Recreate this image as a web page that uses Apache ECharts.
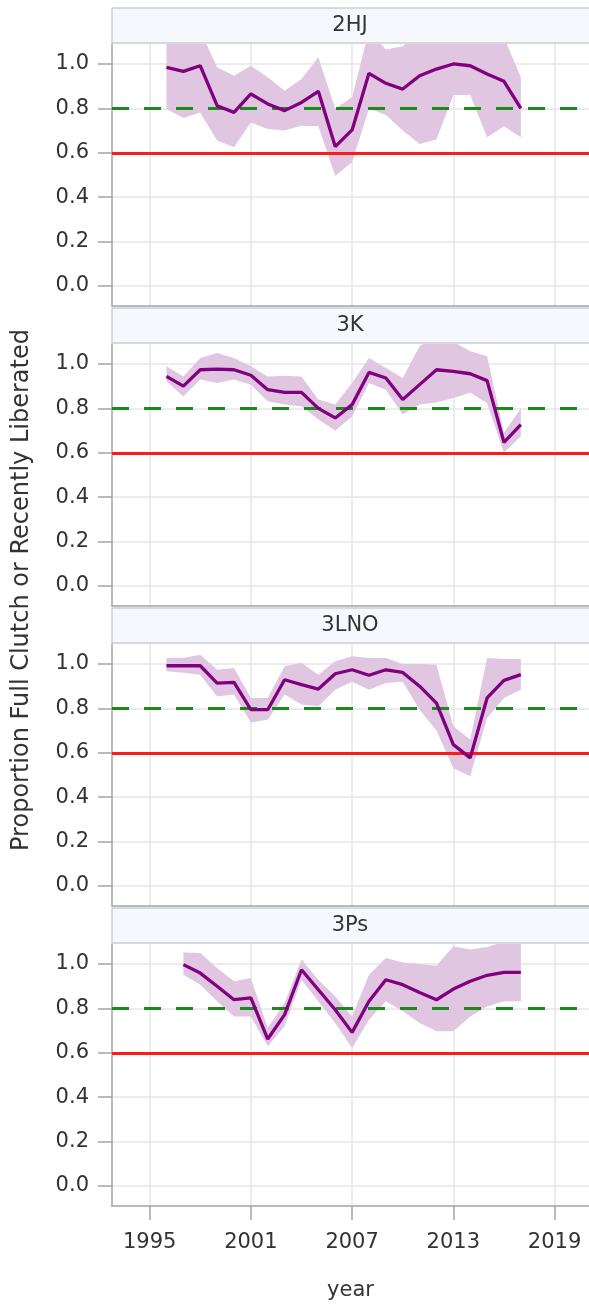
<!DOCTYPE html>
<html>
<head>
<meta charset="utf-8">
<script src="https://cdn.jsdelivr.net/npm/echarts@6/dist/echarts.min.js"></script>
<style>
html,body{margin:0;padding:0;background:#fff;}
#c{width:589px;height:1304px;}
</style>
</head>
<body>
<div id="c"></div>
<script>
// ---------------- data ----------------
const panelNames = ['2HJ', '3K', '3LNO', '3Ps'];
const years = [1996,1997,1998,1999,2000,2001,2002,2003,2004,2005,2006,2007,2008,2009,2010,2011,2012,2013,2014,2015,2016,2017];
const years3Ps = [1997,1998,1999,2000,2001,2002,2003,2004,2005,2006,2007,2008,2009,2010,2011,2012,2013,2014,2015,2016,2017];

const mid2HJ = [0.985,0.967,0.992,0.812,0.782,0.865,0.82,0.79,0.827,0.877,0.628,0.703,0.958,0.913,0.887,0.947,0.977,1.0,0.992,0.955,0.922,0.80];
const lo2HJ  = [0.797,0.757,0.782,0.655,0.625,0.737,0.707,0.70,0.722,0.72,0.497,0.557,0.80,0.77,0.70,0.64,0.66,0.86,0.86,0.67,0.72,0.67];
const hi2HJ  = [1.15,1.15,1.15,0.985,0.947,0.992,0.94,0.88,0.932,1.03,0.80,0.85,1.15,1.065,1.08,1.15,1.15,1.15,1.15,1.15,1.12,0.94];

const mid3K = [0.944,0.90,0.974,0.977,0.974,0.949,0.884,0.872,0.872,0.80,0.757,0.817,0.962,0.937,0.84,0.907,0.974,0.967,0.956,0.925,0.647,0.727];
const lo3K  = [0.922,0.854,0.93,0.914,0.93,0.907,0.832,0.817,0.81,0.75,0.70,0.764,0.914,0.884,0.772,0.817,0.827,0.847,0.87,0.824,0.60,0.674];
const hi3K  = [0.99,0.944,1.027,1.05,1.027,0.99,0.944,0.947,0.944,0.84,0.817,0.914,1.027,0.982,0.937,1.08,1.13,1.10,1.057,1.035,0.69,0.80];

const mid3LNO = [0.992,0.992,0.992,0.914,0.917,0.794,0.794,0.929,0.907,0.887,0.956,0.974,0.949,0.974,0.962,0.90,0.824,0.637,0.577,0.847,0.926,0.952];
const lo3LNO  = [0.967,0.96,0.952,0.854,0.862,0.737,0.749,0.862,0.817,0.81,0.884,0.92,0.884,0.914,0.92,0.794,0.70,0.53,0.494,0.757,0.847,0.884];
const hi3LNO  = [1.027,1.027,1.042,0.974,0.982,0.847,0.847,0.99,1.005,0.952,1.012,1.035,1.027,1.027,1.0,1.0,0.997,0.72,0.66,1.027,1.022,1.022];

const mid3Ps = [0.997,0.959,0.90,0.839,0.847,0.662,0.772,0.974,0.884,0.794,0.692,0.832,0.929,0.907,0.872,0.839,0.887,0.922,0.949,0.962,0.962];
const lo3Ps  = [0.952,0.907,0.832,0.764,0.764,0.629,0.719,0.929,0.832,0.734,0.622,0.749,0.832,0.787,0.734,0.697,0.697,0.764,0.809,0.832,0.832];
const hi3Ps  = [1.052,1.05,0.982,0.922,0.937,0.712,0.824,1.02,0.929,0.854,0.764,0.952,1.027,1.007,1.0,0.992,1.08,1.065,1.077,1.10,1.13];

const refLower = 0.597;   // red line
const refUpper = 0.795;   // green dashed line

const xTickValues = [1995, 2001, 2007, 2013, 2019];
const yTickValues = [0, 0.2, 0.4, 0.6, 0.8, 1.0];

const panelData = [
  {x: years, mid: mid2HJ, lo: lo2HJ, hi: hi2HJ},
  {x: years, mid: mid3K, lo: lo3K, hi: hi3K},
  {x: years, mid: mid3LNO, lo: lo3LNO, hi: hi3LNO},
  {x: years3Ps, mid: mid3Ps, lo: lo3Ps, hi: hi3Ps}
];

// ---------------- chart ----------------
const FONT = '"DejaVu Sans", Verdana, sans-serif';
const FS = 21;
const TXT = '#333333';
const AXIS = '#a0a4a9';
const GRIDC = '#e6e6e6';
const PITCH = 300, TOP0 = 44, H = 262, LEFT = 112, W = 482;

function bandRenderer(d) {
  return function (params, api) {
    if (params.dataIndex !== 0) return null;
    const pts = [];
    for (let k = 0; k < d.x.length; k++) pts.push(api.coord([d.x[k], d.hi[k]]));
    for (let k = d.x.length - 1; k >= 0; k--) pts.push(api.coord([d.x[k], d.lo[k]]));
    const cs = params.coordSys;
    return {
      type: 'group',
      clipPath: {type: 'rect', shape: {x: cs.x, y: cs.y, width: cs.width, height: cs.height}},
      children: [{
        type: 'polygon', shape: {points: pts},
        style: {fill: '#e0c6e1', stroke: null}
      }]
    };
  };
}

const grids = [], xAxes = [], yAxes = [], series = [], graphics = [];
panelNames.forEach((name, i) => {
  const top = TOP0 + PITCH * i;
  const last = i === panelNames.length - 1;
  grids.push({left: LEFT, top: top, width: W, height: H, containLabel: false});
  xAxes.push({
    type: 'value', gridIndex: i, min: 1992.77, max: 2021.04,
    name: last ? 'year' : '', nameLocation: 'middle', nameGap: 74,
    nameTextStyle: {fontFamily: FONT, fontSize: FS, color: TXT},
    axisLine: {show: true, onZero: false, lineStyle: {color: AXIS, width: 1.5}},
    axisTick: {show: last, length: 14, customValues: xTickValues, lineStyle: {color: AXIS, width: 1.5}},
    axisLabel: {show: last, customValues: xTickValues, margin: 26, fontFamily: FONT, fontSize: FS, color: TXT,
      formatter: v => String(v)},
    splitLine: {show: true, lineStyle: {color: GRIDC, width: 1.5}}
  });
  yAxes.push({
    type: 'value', gridIndex: i, min: -0.09, max: 1.09,
    axisLine: {show: true, lineStyle: {color: AXIS, width: 1.5}},
    axisTick: {show: true, length: 14, customValues: yTickValues, lineStyle: {color: AXIS, width: 1.5}},
    axisLabel: {customValues: yTickValues, margin: 23, fontFamily: FONT, fontSize: FS, color: TXT,
      formatter: v => v.toFixed(1)},
    splitLine: {show: true, lineStyle: {color: GRIDC, width: 1.5}}
  });
  const d = panelData[i];
  series.push({
    type: 'custom', xAxisIndex: i, yAxisIndex: i, silent: true, z: 2,
    data: d.x.map((y, k) => [y, d.lo[k], d.hi[k]]),
    encode: {x: 0, y: [1, 2]},
    renderItem: bandRenderer(d)
  });
  series.push({
    type: 'line', xAxisIndex: i, yAxisIndex: i, symbol: 'none', silent: true,
    data: [], z: 3,
    markLine: {
      silent: true, symbol: 'none', label: {show: false}, animation: false,
      data: [
        {yAxis: refLower, lineStyle: {color: '#ff1a1a', width: 3, type: 'solid'}},
        {yAxis: refUpper, lineStyle: {color: '#1a8a1a', width: 3, type: [17, 15]}}
      ]
    }
  });
  series.push({
    type: 'line', xAxisIndex: i, yAxisIndex: i, symbol: 'none', silent: true,
    data: d.x.map((y, k) => [y, d.mid[k]]),
    lineStyle: {color: '#800080', width: 3.3}, z: 5
  });
  // header strip
  graphics.push({
    type: 'rect', shape: {x: LEFT, y: 8 + PITCH * i, width: W, height: 35},
    style: {fill: '#f7f8fd', stroke: '#b4b7bb', lineWidth: 1}, z: 10
  });
  graphics.push({
    type: 'text', x: LEFT + 238, y: 26 + PITCH * i,
    style: {text: name, font: FS + 'px ' + FONT, fill: TXT, align: 'center', verticalAlign: 'middle'}, z: 11
  });
});
graphics.push({
  type: 'text', x: 22, y: 590, rotation: Math.PI / 2,
  style: {text: 'Proportion Full Clutch or Recently Liberated', font: '24px ' + FONT, fill: TXT,
    align: 'center', verticalAlign: 'middle'}, z: 11
});

const chart = echarts.init(document.getElementById('c'), null, {renderer: 'canvas'});
chart.setOption({
  animation: false,
  backgroundColor: '#ffffff',
  grid: grids, xAxis: xAxes, yAxis: yAxes, series: series, graphic: graphics
});
</script>
</body>
</html>
